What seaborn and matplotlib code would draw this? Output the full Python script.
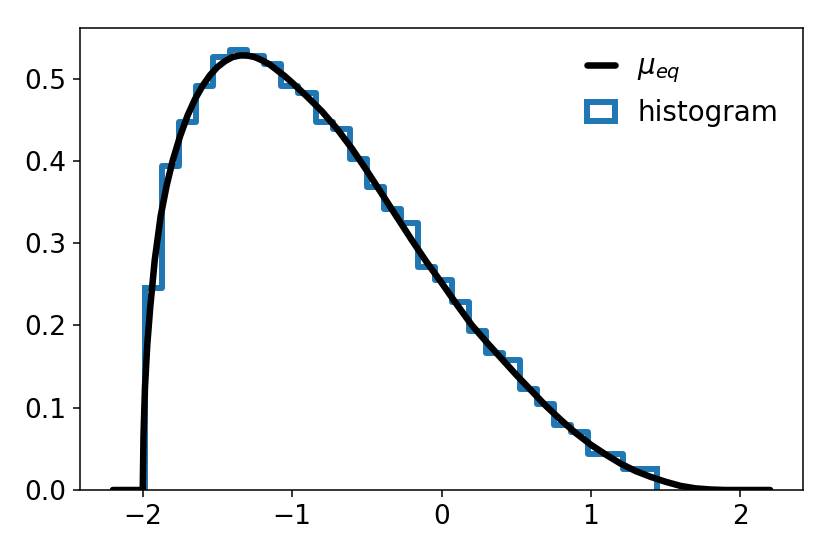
import numpy as np
import pandas as pd
import matplotlib
matplotlib.use("Agg")
import matplotlib.pyplot as plt
import seaborn as sns
from matplotlib.patches import Patch
from matplotlib.lines import Line2D

# ---- data ----
hist_lo = -1.985
hist_hi = 1.44
hist_heights = [0.245, 0.394, 0.447, 0.491, 0.526, 0.535, 0.527, 0.518, 0.491, 0.483,
                0.447, 0.439, 0.4025, 0.368, 0.342, 0.324, 0.271, 0.255, 0.228, 0.193,
                0.167, 0.158, 0.1226, 0.105, 0.079, 0.070, 0.044, 0.044, 0.0255, 0.0255]

curve_x = [-2.2, -2.0, -1.995, -1.985, -1.97, -1.95, -1.92, -1.88, -1.84, -1.80,
           -1.75, -1.70, -1.65, -1.60, -1.55, -1.50, -1.45, -1.40, -1.35, -1.30,
           -1.25, -1.20, -1.15, -1.10, -1.05, -1.0, -0.9, -0.8, -0.7, -0.6,
           -0.5, -0.4, -0.3, -0.2, -0.1, 0.0, 0.1, 0.2, 0.3, 0.4,
           0.5, 0.6, 0.7, 0.8, 0.9, 1.0, 1.1, 1.2, 1.3, 1.4,
           1.5, 1.6, 1.7, 1.8, 1.9, 2.0, 2.2]
curve_y = [0.0, 0.0, 0.065, 0.125, 0.176, 0.222, 0.279, 0.333, 0.370, 0.400,
           0.430, 0.455, 0.475, 0.491, 0.504, 0.514, 0.521, 0.526, 0.528, 0.528,
           0.526, 0.522, 0.517, 0.510, 0.503, 0.495, 0.478, 0.460, 0.439, 0.415,
           0.388, 0.360, 0.332, 0.304, 0.277, 0.252, 0.226, 0.201, 0.180, 0.160,
           0.140, 0.121, 0.102, 0.085, 0.069, 0.055, 0.043, 0.032, 0.023, 0.016,
           0.010, 0.005, 0.002, 0.0006, 0.0, 0.0, 0.0]

legend_labels = [r"$\mu_{eq}$", "histogram"]

# ---- style ----
sns.set_theme(style="ticks", rc={
    "axes.edgecolor": "black",
    "axes.linewidth": 1.1,
    "xtick.color": "black",
    "ytick.color": "black",
    "text.color": "black",
    "xtick.major.size": 4.8,
    "ytick.major.size": 4.8,
    "xtick.major.width": 1.1,
    "ytick.major.width": 1.1,
    "xtick.major.pad": 5,
    "ytick.major.pad": 5,
    "xtick.labelsize": 19,
    "ytick.labelsize": 19,
})
plt.rcParams["font.family"] = ["DejaVu Sans"]
plt.rcParams["mathtext.fontset"] = "dejavusans"

blue = "#1f77b4"
lw_hist = 4.3
lw_curve = 4.7

fig = plt.figure(figsize=(8.3, 5.54), dpi=100)
ax = fig.add_axes([0.0964, 0.1155, 0.8711, 0.8345])

n_bins = len(hist_heights)
edges = np.linspace(hist_lo, hist_hi, n_bins + 1)
centers = (edges[:-1] + edges[1:]) / 2
hist_df = pd.DataFrame({"x": centers, "w": hist_heights})
curve_df = pd.DataFrame({"x": curve_x, "y": curve_y})

sns.histplot(data=hist_df, x="x", weights="w", bins=n_bins,
             binrange=(hist_lo, hist_hi), element="step",
             fill=False, color=blue, linewidth=lw_hist, ax=ax, zorder=2)
# outer edges of the step outline drop down to zero (like histtype="step")
ax.vlines([hist_lo, hist_hi], 0, [hist_heights[0], hist_heights[-1]],
          colors=blue, linewidth=lw_hist, zorder=2, capstyle="projecting")

sns.lineplot(data=curve_df, x="x", y="y", color="black", linewidth=lw_curve,
             estimator=None, ax=ax, zorder=3)

ax.set_ylim(bottom=0)
ax.set_xlabel("")
ax.set_ylabel("")

handles = [Line2D([], [], color="black", lw=lw_curve),
           Patch(facecolor="white", edgecolor=blue, lw=lw_hist)]
ax.legend(handles, legend_labels, frameon=False, loc="upper right",
          handlelength=1.0, fontsize=20)

fig.savefig("out.png", dpi=100)
